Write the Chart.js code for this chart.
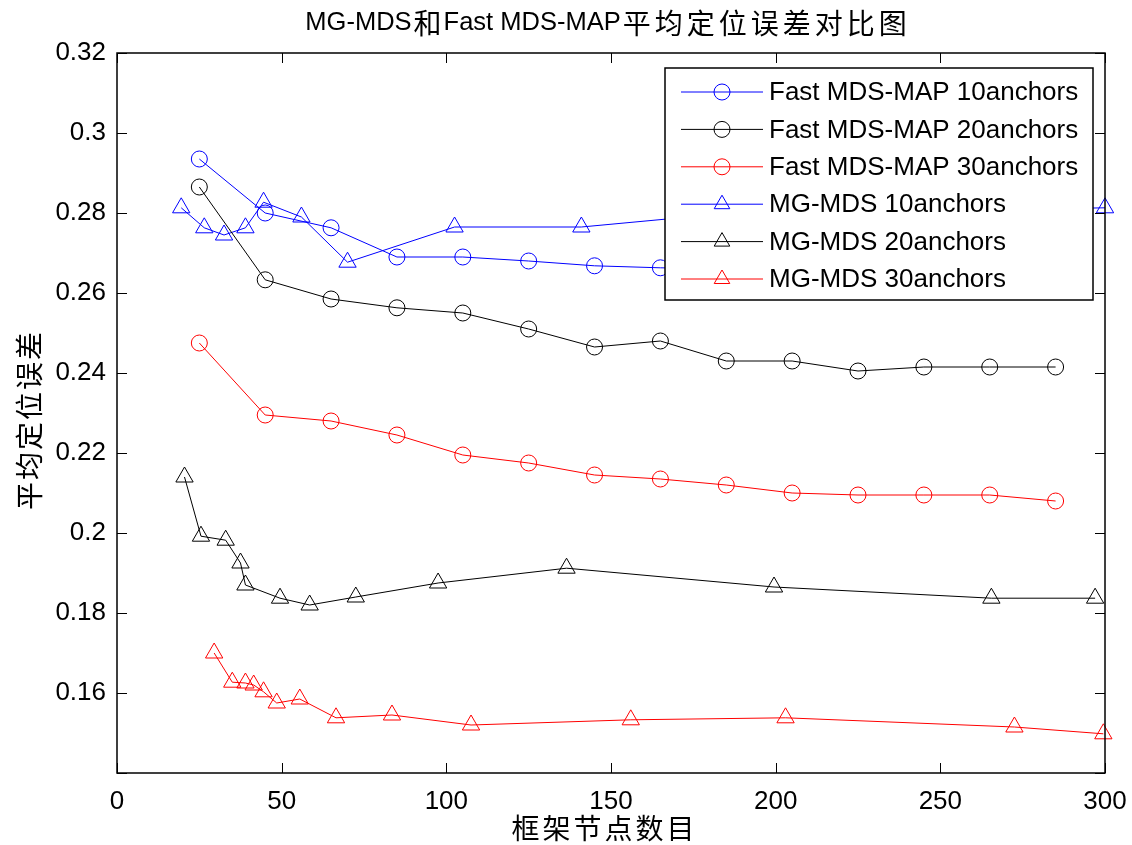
<!DOCTYPE html>
<html>
<head>
<meta charset="utf-8">
<script src="https://cdn.jsdelivr.net/npm/chart.js@4.4.1/dist/chart.umd.min.js"></script>
<style>
  html, body { margin: 0; padding: 0; background: #fff; }
  #wrap { width: 1132px; height: 845px; }
</style>
</head>
<body>
<div id="wrap"><canvas id="chart" width="1132" height="845"></canvas></div>
<script>
// Fast MDS-MAP runs, sampled every 20 nodes
const fastNodes = [25, 45, 65, 85, 105, 125, 145, 165, 185, 205, 225, 245, 265, 285];
const fast10 = [0.2935, 0.2800, 0.2763, 0.2690, 0.2690, 0.2680, 0.2668, 0.2663, 0.2660, 0.2658, 0.2655, 0.2652, 0.2650, 0.2648];
const fast20 = [0.2865, 0.2633, 0.2585, 0.2563, 0.2550, 0.2510, 0.2465, 0.2480, 0.2430, 0.2430, 0.2405, 0.2415, 0.2415, 0.2415];
const fast30 = [0.2475, 0.2295, 0.2280, 0.2245, 0.2195, 0.2175, 0.2145, 0.2135, 0.2120, 0.2100, 0.2095, 0.2095, 0.2095, 0.2080];

// MG-MDS runs, each with its own node counts
const mg10Nodes = [19.5, 26.5, 32.5, 39, 44.5, 56, 70, 102.5, 141, 180, 300];
const mg10 = [0.2813, 0.2763, 0.2745, 0.2763, 0.2827, 0.2790, 0.2677, 0.2765, 0.2765, 0.2795, 0.2813];
const mg20Nodes = [20.5, 25.5, 33, 37.5, 39, 49.5, 58.5, 72.5, 97.5, 136.5, 199.5, 265.5, 297];
const mg20 = [0.2140, 0.1992, 0.1982, 0.1925, 0.1870, 0.1837, 0.1820, 0.1840, 0.1875, 0.1912, 0.1865, 0.1837, 0.1837];
const mg30Nodes = [29.5, 35, 39, 41.5, 44.5, 48.5, 55.5, 66.5, 83.5, 107.5, 156, 203, 272.5, 299.5];
const mg30 = [0.1700, 0.1627, 0.1625, 0.1620, 0.1603, 0.1575, 0.1585, 0.1538, 0.1545, 0.1520, 0.1533, 0.1538, 0.1515, 0.1498];

const labels = [
  'Fast MDS-MAP 10anchors', 'Fast MDS-MAP 20anchors', 'Fast MDS-MAP 30anchors',
  'MG-MDS 10anchors', 'MG-MDS 20anchors', 'MG-MDS 30anchors',
];
const xTicks = [0, 50, 100, 150, 200, 250, 300];
const yTicks = [0.14, 0.16, 0.18, 0.2, 0.22, 0.24, 0.26, 0.28, 0.3, 0.32];

const titleText = 'MG-MDS和Fast MDS-MAP平均定位误差对比图';
const xTitle = '框架节点数目';
const yTitle = '平均定位误差';

const LATIN = '"Liberation Sans", Arial, sans-serif';
const CJK = '"Noto Sans CJK SC", sans-serif';

function pts(xs, ys) {
  return xs.map((x, i) => ({ x: x, y: ys[i] }));
}

function series(label, data, color, style) {
  return {
    label: label,
    data: data,
    showLine: true,
    borderColor: color,
    borderWidth: 1,
    backgroundColor: 'rgba(0,0,0,0)',
    pointStyle: style,
    pointRadius: style === 'triangle' ? 10 : 8,
    pointBorderWidth: 1,
    pointBorderColor: color,
    pointBackgroundColor: 'rgba(0,0,0,0)',
    pointHoverRadius: style === 'triangle' ? 10 : 8,
    tension: 0,
    clip: false,
  };
}

// latin runs in normal font, chinese chars laid out one by one on a fixed pitch
function drawMixed(ctx, text, cx, cy, latinSize, cjkSize, pitch) {
  const runs = [];
  for (const ch of text) {
    const isCjk = /[\u4e00-\u9fff]/.test(ch);
    const last = runs[runs.length - 1];
    if (!isCjk && last && !last.cjk) last.s += ch;
    else runs.push({ s: ch, cjk: isCjk });
  }
  let total = 0;
  runs.forEach(r => {
    if (r.cjk) { r.w = pitch; }
    else { ctx.font = latinSize + 'px ' + LATIN; r.w = ctx.measureText(r.s).width; }
    total += r.w;
  });
  let x = cx - total / 2;
  ctx.textBaseline = 'middle';
  runs.forEach(r => {
    if (r.cjk) {
      ctx.font = cjkSize + 'px ' + CJK;
      ctx.textAlign = 'center';
      ctx.fillText(r.s, x + r.w / 2, cy);
    } else {
      ctx.font = latinSize + 'px ' + LATIN;
      ctx.textAlign = 'left';
      ctx.fillText(r.s, x, cy);
    }
    x += r.w;
  });
}

const matlabLook = {
  id: 'matlabLook',
  afterDatasetsDraw(chart) {
    const ctx = chart.ctx;
    const a = chart.chartArea;
    const xs = chart.scales.x;
    const ys = chart.scales.y;
    ctx.save();

    // box + inward ticks on all four sides
    ctx.strokeStyle = '#000';
    ctx.lineWidth = 1.5;
    ctx.strokeRect(a.left, a.top, a.right - a.left, a.bottom - a.top);
    ctx.beginPath();
    xTicks.forEach(v => {
      const px = Math.round(xs.getPixelForValue(v)) + 0.5;
      ctx.moveTo(px, a.bottom); ctx.lineTo(px, a.bottom - 10);
      ctx.moveTo(px, a.top); ctx.lineTo(px, a.top + 10);
    });
    yTicks.forEach(v => {
      const py = Math.round(ys.getPixelForValue(v)) + 0.5;
      ctx.moveTo(a.left, py); ctx.lineTo(a.left + 10, py);
      ctx.moveTo(a.right, py); ctx.lineTo(a.right - 10, py);
    });
    ctx.lineWidth = 1;
    ctx.stroke();

    // legend box in the upper right corner
    const lx = 665, ly = 68, lw = 428, lh = 232;
    ctx.fillStyle = '#fff';
    ctx.fillRect(lx, ly, lw, lh);
    ctx.strokeStyle = '#000';
    ctx.lineWidth = 1.5;
    ctx.strokeRect(lx, ly, lw, lh);
    chart.data.datasets.forEach((ds, i) => {
      const y = 92 + i * 37.4;
      ctx.strokeStyle = ds.borderColor;
      ctx.fillStyle = 'rgba(0,0,0,0)';
      ctx.lineWidth = 1;
      ctx.beginPath();
      ctx.moveTo(681, y); ctx.lineTo(763, y);
      ctx.stroke();
      Chart.helpers.drawPoint(ctx, {
        pointStyle: ds.pointStyle,
        radius: ds.pointStyle === 'triangle' ? 9 : 8,
        borderWidth: 1,
        rotation: 0,
      }, 722, y);
      ctx.fillStyle = '#000';
      ctx.font = '26px ' + LATIN;
      ctx.textAlign = 'left';
      ctx.textBaseline = 'middle';
      ctx.fillText(ds.label, 769, y + 1);
    });

    // title and axis titles
    ctx.fillStyle = '#000';
    drawMixed(ctx, titleText, 607, 23, 25.5, 28, 32);
    drawMixed(ctx, xTitle, 603, 828, 25, 28, 31);
    ctx.translate(29, 421);
    ctx.rotate(-Math.PI / 2);
    drawMixed(ctx, yTitle, 0, 0, 25, 28, 30);
    ctx.restore();
  },
};

new Chart(document.getElementById('chart'), {
  type: 'scatter',
  data: {
    datasets: [
      series(labels[0], pts(fastNodes, fast10), '#0000ff', 'circle'),
      series(labels[1], pts(fastNodes, fast20), '#000000', 'circle'),
      series(labels[2], pts(fastNodes, fast30), '#ff0000', 'circle'),
      series(labels[3], pts(mg10Nodes, mg10), '#0000ff', 'triangle'),
      series(labels[4], pts(mg20Nodes, mg20), '#000000', 'triangle'),
      series(labels[5], pts(mg30Nodes, mg30), '#ff0000', 'triangle'),
    ],
  },
  options: {
    responsive: false,
    animation: false,
    devicePixelRatio: 1,
    layout: { padding: { top: 53, right: 27, left: 0, bottom: 0 } },
    plugins: {
      legend: { display: false },
      title: { display: false },
      tooltip: { enabled: false },
    },
    scales: {
      x: {
        type: 'linear',
        min: 0,
        max: 300,
        afterFit: s => { s.height = 72; s.paddingLeft = 0; s.paddingRight = 0; },
        afterBuildTicks: s => { s.ticks = xTicks.map(v => ({ value: v })); },
        grid: { display: false, drawTicks: false },
        border: { display: false },
        ticks: {
          padding: 13,
          color: '#000',
          font: { family: LATIN, size: 26 },
          maxRotation: 0,
        },
      },
      y: {
        type: 'linear',
        min: 0.14,
        max: 0.32,
        afterFit: s => { s.width = 117; s.paddingTop = 0; s.paddingBottom = 0; },
        afterBuildTicks: s => { s.ticks = yTicks.map(v => ({ value: v })); },
        grid: { display: false, drawTicks: false },
        border: { display: false },
        ticks: {
          padding: 11,
          color: '#000',
          font: { family: LATIN, size: 26 },
          callback: v => (Math.abs(v - 0.14) < 1e-9 ? '' : String(+v.toFixed(2))),
        },
      },
    },
  },
  plugins: [matlabLook],
});
</script>
</body>
</html>
